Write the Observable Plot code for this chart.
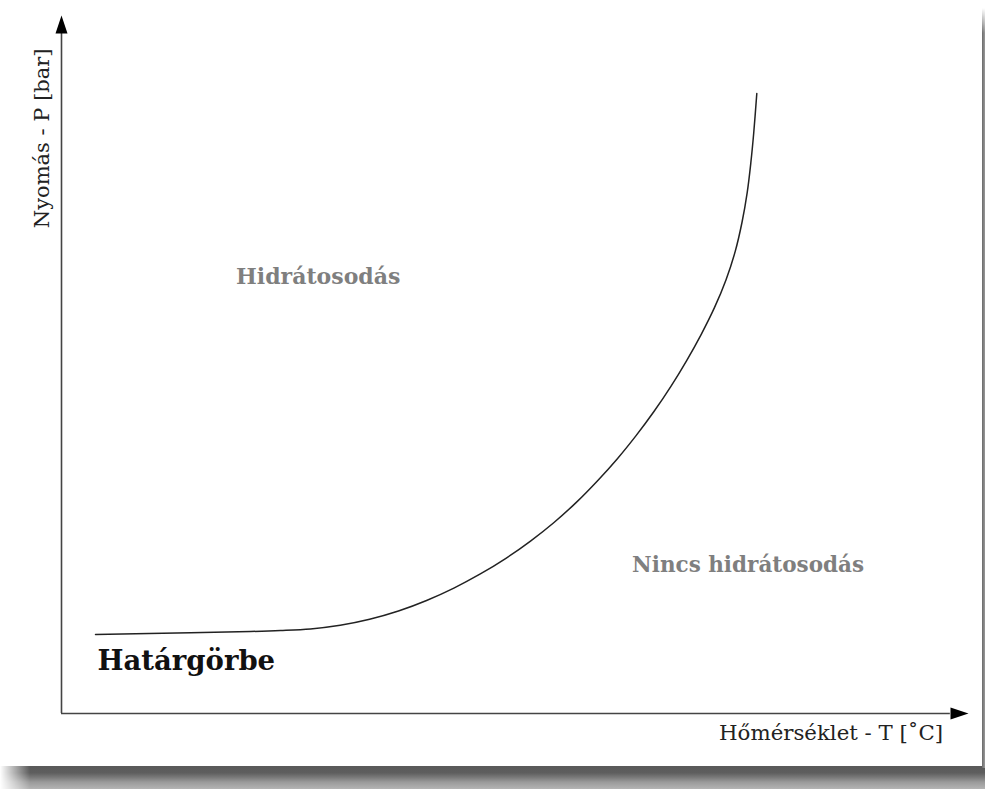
<!DOCTYPE html>
<html>
<head>
<meta charset="utf-8">
<script src="https://cdn.jsdelivr.net/npm/d3@7"></script>
<script src="https://cdn.jsdelivr.net/npm/@observablehq/plot@0.6"></script>
<style>
  html, body { margin: 0; padding: 0; background: #fff; }
  #wrap { position: relative; width: 985px; height: 789px; overflow: hidden; background: #fff; }
  #chart { position: absolute; left: 0; top: 0; }
  #shadowB { position: absolute; left: 0; top: 766px; width: 985px; height: 23px;
    background: linear-gradient(to bottom, #595959 0%, #5e5e5e 30%, #7a7a7a 50%, #9a9a9a 70%, #b4b4b4 100%);
    -webkit-mask-image: linear-gradient(to right, transparent 0px, #000 30px);
    mask-image: linear-gradient(to right, transparent 0px, #000 30px); }
  #shadowR { position: absolute; left: 982px; top: 8px; width: 3px; height: 760px;
    background: linear-gradient(to right, #6a6a6a, #9a9a9a);
    -webkit-mask-image: linear-gradient(to bottom, transparent 0px, #000 25px);
    mask-image: linear-gradient(to bottom, transparent 0px, #000 25px); }
</style>
</head>
<body>
<div id="wrap">
  <div id="shadowB"></div>
  <div id="shadowR"></div>
  <div id="chart"></div>
</div>
<script>
// Boundary curve (hydrate formation)
const temperature = [3.75, 14.22, 20.84, 24.15, 27.45, 30.73, 33.97, 37.15, 40.25, 43.26, 46.18, 49.00, 51.71, 54.30, 56.76, 59.08, 61.29, 63.37, 65.34, 67.19, 68.91, 70.52, 71.99, 73.26, 74.28, 75.03, 75.60, 76.00, 76.32, 76.66];
const pressure    = [11.32, 11.58, 11.75, 11.89, 12.12, 12.64, 13.50, 14.68, 16.19, 17.97, 19.99, 22.23, 24.70, 27.37, 30.25, 33.32, 36.51, 39.85, 43.30, 46.87, 50.53, 54.29, 58.14, 62.11, 66.20, 70.38, 74.62, 78.88, 83.16, 88.83];

// Texts
const regionLabels = ["Hidrátosodás", "Nincs hidrátosodás"];
const curveLabel = "Határgörbe";
const xLabel = "Hőmérséklet - T [˚C]";
const yLabel = "Nyomás - P [bar]";

const curve = temperature.map((t, i) => ({T: t, P: pressure[i]}));

// Filled arrowhead symbol, tip at origin pointing up
const arrowHead = {
  draw(ctx) {
    ctx.moveTo(0, 0);
    ctx.lineTo(6, 18);
    ctx.lineTo(-6, 18);
    ctx.closePath();
  }
};

const serif = "'DejaVu Serif', 'Liberation Serif', serif";

const plot = Plot.plot({
  width: 982,
  height: 765,
  marginLeft: 61,
  marginRight: 14,
  marginTop: 15,
  marginBottom: 52,
  x: {domain: [0, 100], axis: null},
  y: {domain: [0, 100], axis: null},
  style: {background: "transparent", overflow: "visible"},
  marks: [
    Plot.ruleY([0], {x1: 0, x2: 98, stroke: "#444", strokeWidth: 1.6}),
    Plot.ruleX([0], {y1: 0, y2: 98, stroke: "#444", strokeWidth: 1.6}),
    Plot.dot([{T: 100, P: 0}], {x: "T", y: "P", symbol: arrowHead, rotate: 90, fill: "#000", stroke: "none"}),
    Plot.dot([{T: 0, P: 100}], {x: "T", y: "P", symbol: arrowHead, rotate: 0, fill: "#000", stroke: "none"}),
    Plot.line(curve, {x: "T", y: "P", curve: "catmull-rom", stroke: "#222", strokeWidth: 1.5}),
    Plot.text([regionLabels[0]], {x: 28.3, y: 62.6, text: d => d, fontFamily: serif, fontWeight: "bold", fontSize: 22, fill: "#7f7f7f"}),
    Plot.text([regionLabels[1]], {x: 75.7, y: 21.2, text: d => d, fontFamily: serif, fontWeight: "bold", fontSize: 21.5, fill: "#7f7f7f"}),
    Plot.text([curveLabel], {x: 3.97, y: 7.45, text: d => d, textAnchor: "start", fontFamily: serif, fontWeight: "bold", fontSize: 27.5, fill: "#111"}),
    Plot.text([xLabel], {x: 97.2, y: -2.87, text: d => d, textAnchor: "end", fontFamily: serif, fontSize: 21.3, fill: "#222"}),
    Plot.text([yLabel], {x: -2.09, y: 82.4, text: d => d, rotate: -90, fontFamily: serif, fontSize: 21, fill: "#222"})
  ]
});
document.getElementById("chart").appendChild(plot);
</script>
</body>
</html>
